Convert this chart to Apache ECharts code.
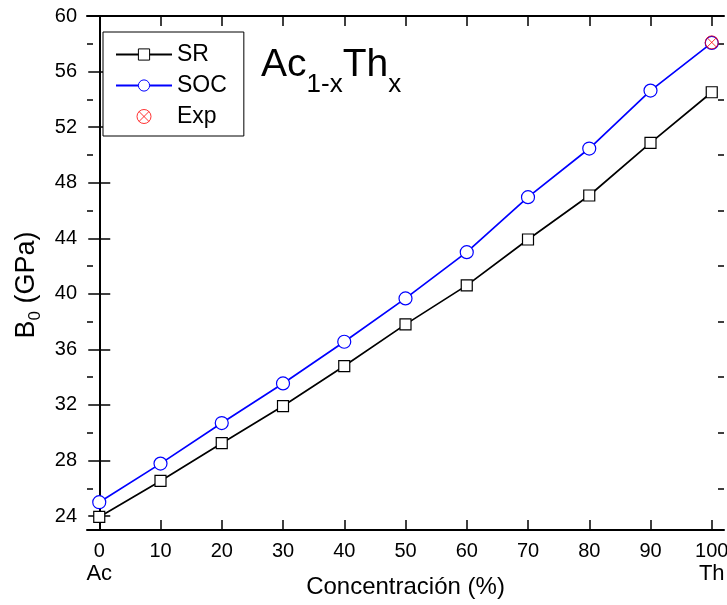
<!DOCTYPE html>
<html>
<head>
<meta charset="utf-8">
<script src="https://cdn.jsdelivr.net/npm/echarts@6/dist/echarts.min.js"></script>
<style>
  html, body { margin: 0; padding: 0; background: #fff; }
  #chart { width: 727px; height: 605px; }
</style>
</head>
<body>
<div id="chart"></div>
<script>
// concentration of Th (%)
const concentration = [0, 10, 20, 30, 40, 50, 60, 70, 80, 90, 100];
// bulk modulus B0 (GPa)
const srValues = [23.94, 26.53, 29.25, 31.92, 34.8, 37.8, 40.61, 43.91, 47.08, 50.87, 54.51];
const socValues = [25.0, 27.78, 30.7, 33.55, 36.55, 39.67, 43.0, 46.96, 50.46, 54.63, 58.06];
const expConc = [100];
const expValues = [58.1];

const xTicks = [0, 10, 20, 30, 40, 50, 60, 70, 80, 90, 100];
const yTicks = [24, 28, 32, 36, 40, 44, 48, 52, 56, 60];
const yMinorTicks = [26, 30, 34, 38, 42, 46, 50, 54, 58];

const FONT = "'Liberation Sans', Arial, sans-serif";
const exSymbol = 'path://M10,0A10,10,0,1,1,10,20A10,10,0,1,1,10,0ZM2.93,2.93L17.07,17.07M17.07,2.93L2.93,17.07';

const chart = echarts.init(document.getElementById('chart'));

const axisLine = { show: true, lineStyle: { color: '#000', width: 2 } };

function yAxisDef(position, ticks, len, withLabels, withLine) {
  return {
    type: 'value',
    position: position,
    min: 23,
    max: 60,
    axisLine: withLine ? axisLine : { show: false },
    splitLine: { show: false },
    axisTick: { show: true, inside: true, length: len, customValues: ticks, lineStyle: { color: '#000', width: 1.5 } },
    axisLabel: withLabels
      ? { show: true, customValues: ticks, margin: 10, color: '#000', fontSize: 20, fontFamily: FONT }
      : { show: false }
  };
}

const option = {
  animation: false,
  backgroundColor: '#fff',
  grid: { left: 87, right: 3, top: 16, bottom: 75, containLabel: false, outerBoundsMode: 'none' },
  title: {
    text: '{a|Ac}{s|1-x}{a|Th}{s|x}',
    left: 261,
    top: 46,
    padding: 0,
    textStyle: {
      rich: {
        a: { fontSize: 39, fontWeight: 'normal', fontFamily: FONT, color: '#000', lineHeight: 40, verticalAlign: 'top' },
        s: { fontSize: 26, fontWeight: 'normal', fontFamily: FONT, color: '#000', lineHeight: 28, padding: [26, 0, 0, 0], verticalAlign: 'top' }
      }
    }
  },
  legend: {
    orient: 'vertical',
    left: 103,
    top: 32,
    padding: [11, 17, 8, 12],
    itemGap: 8,
    itemWidth: 56,
    itemHeight: 14,
    itemTextGap: 7,
    borderColor: '#000',
    borderWidth: 1,
    backgroundColor: '#fff',
    itemStyle: { borderWidth: 1 },
    textStyle: { color: '#000', fontSize: 23, fontFamily: FONT },
    data: ['SR', 'SOC', 'Exp']
  },
  xAxis: [
    {
      type: 'value',
      position: 'bottom',
      min: -2,
      max: 102,
      axisLine: axisLine,
      splitLine: { show: false },
      axisTick: { show: true, inside: true, length: 10, customValues: xTicks, lineStyle: { color: '#000', width: 1.5 } },
      axisLabel: {
        show: true,
        customValues: xTicks,
        margin: 10,
        color: '#000',
        formatter: function (v) {
          if (v === 0) return '{n|0}\n{e|Ac}';
          if (v === 100) return '{n|100}\n{e|Th}';
          return '{n|' + v + '}';
        },
        rich: {
          n: { fontSize: 20, fontFamily: FONT, color: '#000', lineHeight: 22 },
          e: { fontSize: 22, fontFamily: FONT, color: '#000', lineHeight: 24 }
        }
      },
      name: 'Concentración (%)',
      nameLocation: 'middle',
      nameGap: 45,
      nameMoveOverlap: false,
      nameTextStyle: { color: '#000', fontSize: 24, fontFamily: FONT }
    },
    {
      type: 'value',
      position: 'top',
      min: -2,
      max: 102,
      axisLine: axisLine,
      splitLine: { show: false },
      axisTick: { show: true, inside: true, length: 10, customValues: xTicks, lineStyle: { color: '#000', width: 1.5 } },
      axisLabel: { show: false }
    }
  ],
  yAxis: [
    Object.assign(yAxisDef('left', yTicks, 11, true, true), {
      name: '{b|B}{s|0}{b| (GPa)}',
      nameLocation: 'middle',
      nameGap: 20,
      nameRotate: 90,
      nameTextStyle: {
        padding: [0, 24, 0, 0],
        rich: {
          b: { fontSize: 27, fontFamily: FONT, color: '#000', lineHeight: 30, verticalAlign: 'top' },
          s: { fontSize: 17, fontFamily: FONT, color: '#000', lineHeight: 18, padding: [14, 0, 0, 0], verticalAlign: 'top' }
        }
      }
    }),
    yAxisDef('right', yTicks, 11, false, true),
    yAxisDef('left', yMinorTicks, 6, false, false),
    yAxisDef('right', yMinorTicks, 6, false, false)
  ],
  series: [
    {
      name: 'SR',
      type: 'line',
      data: concentration.map((c, i) => [c, srValues[i]]),
      symbol: 'rect',
      symbolSize: 11,
      itemStyle: { color: '#fff', borderColor: '#000', borderWidth: 1.2 },
      lineStyle: { color: '#000', width: 1.7 },
      z: 3
    },
    {
      name: 'SOC',
      type: 'line',
      data: concentration.map((c, i) => [c, socValues[i]]),
      symbol: 'circle',
      symbolSize: 13,
      itemStyle: { color: '#fff', borderColor: '#0000ff', borderWidth: 1.2 },
      lineStyle: { color: '#0000ff', width: 1.7 },
      z: 3
    },
    {
      name: 'Exp',
      type: 'scatter',
      data: expConc.map((c, i) => [c, expValues[i]]),
      symbol: exSymbol,
      symbolSize: 13,
      symbolKeepAspect: true,
      itemStyle: { color: 'rgba(255,0,0,0)', borderColor: '#ff0000', borderWidth: 1 },
      z: 4
    }
  ]
};

chart.setOption(option);
</script>
</body>
</html>
